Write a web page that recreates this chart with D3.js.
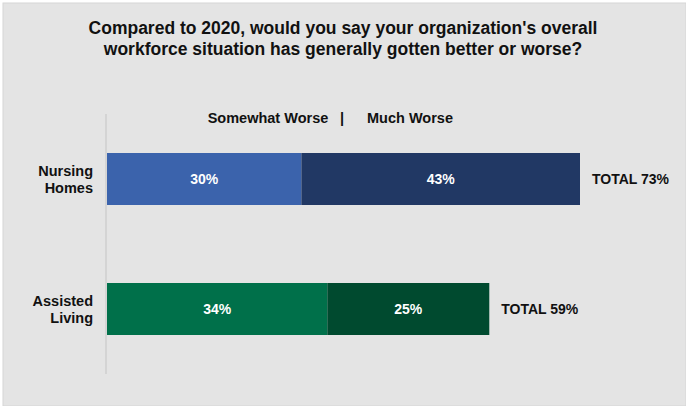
<!DOCTYPE html>
<html>
<head>
<meta charset="utf-8">
<script src="https://cdn.jsdelivr.net/npm/d3@7"></script>
<style>
  html, body { margin: 0; padding: 0; background: #ffffff; }
  svg { display: block; font-family: "Liberation Sans", Arial, sans-serif; }
</style>
</head>
<body>
<svg id="chart" width="686" height="406"></svg>
<script>
const titleLines = ["Compared to 2020, would you say your organization's overall",
                    "workforce situation has generally gotten better or worse?"];
const categories = [["Nursing", "Homes"], ["Assisted", "Living"]];
const somewhatWorse = [30, 34];
const muchWorse = [43, 25];
const totals = [73, 59];
const legendLabels = ["Somewhat Worse", "|", "Much Worse"];
const lightColors = ["#3b63ac", "#00704a"];
const darkColors = ["#213864", "#004a2f"];

const svg = d3.select("#chart");
svg.append("rect").attr("x", 3).attr("y", 3).attr("width", 683).attr("height", 403)
  .attr("fill", "#e4e4e4").attr("stroke", "#d6d6d6").attr("stroke-width", 1);

// title
svg.append("g").selectAll("text").data(titleLines).join("text")
  .attr("x", 343).attr("y", (d, i) => 34 + i * 21)
  .attr("text-anchor", "middle").attr("font-size", 17.5).attr("font-weight", "bold")
  .attr("fill", "#111").text(d => d);

const x = d3.scaleLinear().domain([0, 73]).range([107, 580]);
const y = d3.scalePoint().domain(d3.range(categories.length)).range([179, 309]);
const bh = 52;

// axis line
svg.append("line").attr("x1", 106).attr("x2", 106).attr("y1", 114).attr("y2", 374)
  .attr("stroke", "#d4d4d4").attr("stroke-width", 2);

const rows = svg.append("g").selectAll("g").data(categories).join("g")
  .attr("transform", (d, i) => `translate(0,${y(i) - bh / 2})`);

rows.append("rect").attr("x", x(0)).attr("y", 0)
  .attr("width", (d, i) => x(somewhatWorse[i]) - x(0)).attr("height", bh)
  .attr("fill", (d, i) => lightColors[i]);
rows.append("rect").attr("x", (d, i) => x(somewhatWorse[i])).attr("y", 0)
  .attr("width", (d, i) => x(somewhatWorse[i] + muchWorse[i]) - x(somewhatWorse[i])).attr("height", bh)
  .attr("fill", (d, i) => darkColors[i]);

rows.append("text").attr("x", (d, i) => (x(0) + x(somewhatWorse[i])) / 2).attr("y", bh / 2 + 5)
  .attr("text-anchor", "middle").attr("font-size", 14).attr("font-weight", "bold").attr("fill", "#fff")
  .text((d, i) => somewhatWorse[i] + "%");
rows.append("text").attr("x", (d, i) => (x(somewhatWorse[i]) + x(somewhatWorse[i] + muchWorse[i])) / 2).attr("y", bh / 2 + 5)
  .attr("text-anchor", "middle").attr("font-size", 14).attr("font-weight", "bold").attr("fill", "#fff")
  .text((d, i) => muchWorse[i] + "%");
rows.append("text").attr("x", (d, i) => x(totals[i]) + 12).attr("y", bh / 2 + 5)
  .attr("font-size", 14).attr("font-weight", "bold").attr("fill", "#111")
  .text((d, i) => "TOTAL " + totals[i] + "%");

rows.each(function(d) {
  const t = d3.select(this).append("text").attr("text-anchor", "end")
    .attr("font-size", 14.5).attr("font-weight", "bold").attr("fill", "#111");
  d.forEach((line, j) => t.append("tspan").attr("x", 93).attr("y", bh / 2 - 3 + j * 17).text(line));
});

// legend
const legX = [268, 342, 410];
svg.append("g").selectAll("text").data(legendLabels).join("text")
  .attr("x", (d, i) => legX[i]).attr("y", 123).attr("text-anchor", "middle")
  .attr("font-size", 14.5).attr("font-weight", "bold").attr("fill", "#111").text(d => d);
</script>
</body>
</html>
